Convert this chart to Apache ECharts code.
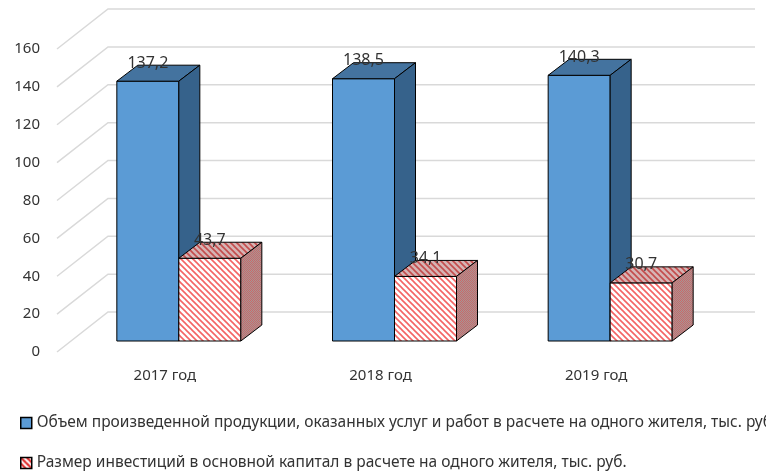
<!DOCTYPE html>
<html>
<head>
<meta charset="utf-8">
<script src="https://cdn.jsdelivr.net/npm/echarts@6/dist/echarts.min.js"></script>
<style>
  html, body { margin: 0; padding: 0; background: #fff; }
  #chart { width: 766px; height: 473px; }
</style>
</head>
<body>
<div id="chart"></div>
<script>
// data
const categories = ['2017 год', '2018 год', '2019 год'];
const outputPerCapita = [137.2, 138.5, 140.3];
const investPerCapita = [43.7, 34.1, 30.7];
const yTicks = [0, 20, 40, 60, 80, 100, 120, 140, 160];
const seriesNames = [
  'Объем произведенной продукции, оказанных услуг и работ в расчете на одного жителя, тыс. руб.',
  'Размер инвестиций в основной капитал в расчете на одного жителя, тыс. руб.'
];

/* ---------------------------- 3d look settings ---------------------------- */
const WALL_DX = 51, WALL_DY = -40;   // front floor edge -> back wall
const BAR_OX = 14, BAR_OY = -11;     // front floor edge -> bar front
const BAR_DX = 21, BAR_DY = -16;     // bar depth
const BAR_W = 62;
const FONT = '"Noto Sans", sans-serif';
const TEXT = '#333333';

const makeStripes = (bg, fg, size, lw) => {
  const c = document.createElement('canvas');
  c.width = size; c.height = size;
  const ctx = c.getContext('2d');
  ctx.fillStyle = bg;
  ctx.fillRect(0, 0, size, size);
  ctx.strokeStyle = fg;
  ctx.lineWidth = lw;
  for (let k = -1; k <= 1; k++) {
    ctx.beginPath();
    ctx.moveTo(-size, -size + k * size);
    ctx.lineTo(2 * size, 2 * size + k * size);
    ctx.stroke();
  }
  return { image: c, repeat: 'repeat' };
};

const makeDots = (a, b) => {
  const c = document.createElement('canvas');
  c.width = 2; c.height = 2;
  const ctx = c.getContext('2d');
  ctx.fillStyle = a; ctx.fillRect(0, 0, 2, 2);
  ctx.fillStyle = b; ctx.fillRect(0, 0, 1, 1); ctx.fillRect(1, 1, 1, 1);
  return { image: c, repeat: 'repeat' };
};

const faces = [
  { front: '#5b9bd5', top: '#44739f', side: '#36628b' },
  {
    front: makeStripes('#ffffff', '#f46464', 6, 1.6),
    top: makeStripes('#d6b4b4', '#c44c4c', 6, 1.6),
    side: makeDots('#a89494', '#c86a6a')
  }
];

const barRender = (k) => (params, api) => {
  const ci = api.value(0);
  const v = api.value(1);
  const base = api.coord([ci, 0]);
  const top = api.coord([ci, v]);
  const x0 = base[0] + (k === 0 ? -BAR_W : 0) + BAR_OX;
  const x1 = x0 + BAR_W;
  const yT = top[1] + BAR_OY;
  const yB = base[1] + BAR_OY;
  const f = faces[k];
  const line = { stroke: '#000', lineWidth: 1 };
  return {
    type: 'group',
    children: [
      { type: 'rect', shape: { x: x0, y: yT, width: BAR_W, height: yB - yT },
        style: Object.assign({ fill: f.front }, line) },
      { type: 'polygon',
        shape: { points: [[x0, yT], [x0 + BAR_DX, yT + BAR_DY], [x1 + BAR_DX, yT + BAR_DY], [x1, yT]] },
        style: Object.assign({ fill: f.top }, line) },
      { type: 'polygon',
        shape: { points: [[x1, yT], [x1 + BAR_DX, yT + BAR_DY], [x1 + BAR_DX, yB + BAR_DY], [x1, yB]] },
        style: Object.assign({ fill: f.side }, line) },
      { type: 'text', x: x0 + BAR_W / 2, y: yT - 18,
        style: { text: String(v).replace('.', ','), fill: TEXT, font: '16px ' + FONT,
                 align: 'center', verticalAlign: 'middle' } }
    ]
  };
};

const gridRender = (params, api) => {
  const cs = params.coordSys;
  const y = api.coord([0, api.value(1)])[1];
  return {
    type: 'polyline',
    shape: { points: [[cs.x, y], [cs.x + WALL_DX, y + WALL_DY], [cs.x + cs.width + WALL_DX, y + WALL_DY]] },
    style: { stroke: '#d9d9d9', lineWidth: 1.5, fill: null },
    silent: true
  };
};

const legendItem = (name, itemStyle, top) => ({
  orient: 'vertical',
  left: 20,
  top: top,
  padding: 0,
  itemWidth: 11,
  itemHeight: 11,
  textStyle: { fontFamily: FONT, fontSize: 15.5, color: TEXT },
  data: [{ name: name, icon: 'rect', itemStyle: itemStyle }]
});

const chart = echarts.init(document.getElementById('chart'));

chart.setOption({
  animation: false,
  grid: { left: 57, right: 62, top: 49, bottom: 121 },
  legend: [
    legendItem(seriesNames[0],
      { color: '#5b9bd5', borderColor: '#000', borderWidth: 1.5 }, 415),
    legendItem(seriesNames[1],
      { color: makeStripes('#ffffff', '#e02828', 6, 2.2), borderColor: '#000', borderWidth: 1.5 }, 455)
  ],
  xAxis: {
    type: 'category',
    data: categories,
    axisLine: { show: false },
    axisTick: { show: false },
    axisLabel: { margin: 16, fontFamily: FONT, fontSize: 15, color: TEXT }
  },
  yAxis: {
    type: 'value',
    min: 0,
    max: 160,
    interval: 20,
    axisLine: { show: false },
    axisTick: { show: false },
    splitLine: { show: false },
    axisLabel: { margin: 17, fontFamily: FONT, fontSize: 15, color: TEXT }
  },
  series: [
    {
      type: 'custom',
      name: 'grid',
      renderItem: gridRender,
      data: yTicks.map((t) => [0, t]),
      z: 1,
      silent: true
    },
    {
      type: 'custom',
      name: seriesNames[0],
      renderItem: barRender(0),
      itemStyle: { color: '#5b9bd5' },
      data: outputPerCapita.map((v, i) => [i, v]),
      z: 2
    },
    {
      type: 'custom',
      name: seriesNames[1],
      renderItem: barRender(1),
      itemStyle: { color: '#f46464' },
      data: investPerCapita.map((v, i) => [i, v]),
      z: 3
    }
  ]
});
</script>
</body>
</html>
